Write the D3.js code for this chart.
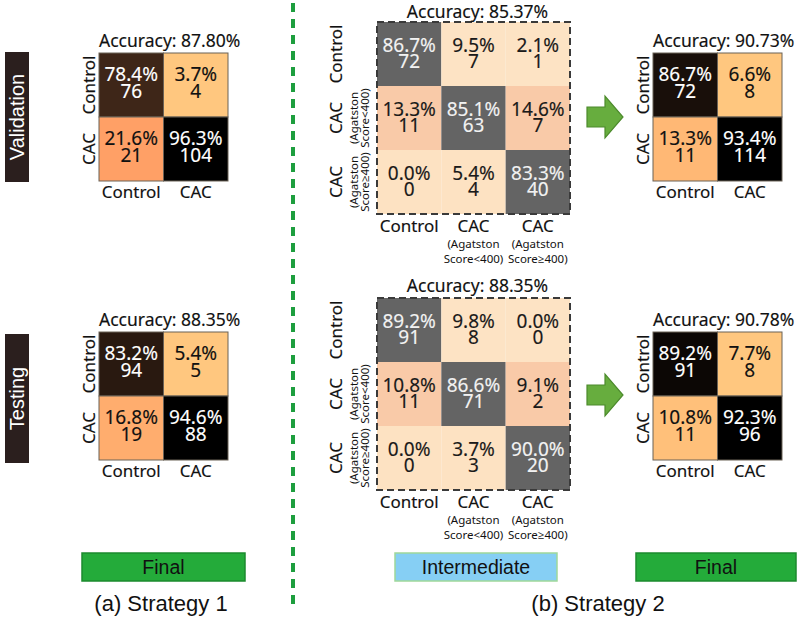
<!DOCTYPE html>
<html><head><meta charset="utf-8">
<script src="https://cdn.jsdelivr.net/npm/d3@7"></script>
<style>body{margin:0;background:#fff}</style></head>
<body>
<script>
// ---------------- DATA ----------------
const labels2 = ["Control", "CAC"];
const labels3 = ["Control", "CAC", "CAC"];
const labels3Sub = [[], ["(Agatston", "Score<400)"], ["(Agatston", "Score≥400)"]];

// Strategy 1
const s1ValPct = [[78.4, 3.7], [21.6, 96.3]];
const s1ValCnt = [[76, 4], [21, 104]];
const s1ValAcc = "Accuracy: 87.80%";
const s1TestPct = [[83.2, 5.4], [16.8, 94.6]];
const s1TestCnt = [[94, 5], [19, 88]];
const s1TestAcc = "Accuracy: 88.35%";

// Strategy 2 intermediate (3 classes)
const s2ValPct3 = [[86.7, 9.5, 2.1], [13.3, 85.1, 14.6], [0.0, 5.4, 83.3]];
const s2ValCnt3 = [[72, 7, 1], [11, 63, 7], [0, 4, 40]];
const s2ValAcc3 = "Accuracy: 85.37%";
const s2TestPct3 = [[89.2, 9.8, 0.0], [10.8, 86.6, 9.1], [0.0, 3.7, 90.0]];
const s2TestCnt3 = [[91, 8, 0], [11, 71, 2], [0, 3, 20]];
const s2TestAcc3 = "Accuracy: 88.35%";

// Strategy 2 final
const s2ValPct = [[86.7, 6.6], [13.3, 93.4]];
const s2ValCnt = [[72, 8], [11, 114]];
const s2ValAcc = "Accuracy: 90.73%";
const s2TestPct = [[89.2, 7.7], [10.8, 92.3]];
const s2TestCnt = [[91, 8], [11, 96]];
const s2TestAcc = "Accuracy: 90.78%";

const sideLabels = ["Validation", "Testing"];
const stageLabels = ["Final", "Intermediate", "Final"];
const strategyLabels = ["(a) Strategy 1", "(b) Strategy 2"];

// ---------------- STYLE / LAYOUT ----------------
const W = 800, H = 617;
const FONT = "'Noto Sans', 'Open Sans', sans-serif";
const AFONT = "'Liberation Sans', Arial, sans-serif";
const copper = d3.scaleLinear().domain([0, 0.8, 1]).range(["#000000", "#ff9f65", "#ffc77f"]);
const rowTint3 = ["#fde3c4", "#f9caa8", "#fde2c2"];
const diagGray = "#646464";

const svg = d3.select("body").append("svg").attr("width", W).attr("height", H)
  .style("font-family", FONT);

function thick(sel, color) {
  return sel.attr("stroke", color).attr("stroke-width", 0.15);
}

function cellText(g, cx, cy, pct, cnt, color, off1, off2) {
  thick(g.append("text").attr("x", cx).attr("y", cy + off1).attr("text-anchor", "middle")
    .attr("font-size", 19).attr("fill", color).text(pct.toFixed(1) + "%"), color);
  thick(g.append("text").attr("x", cx).attr("y", cy + off2).attr("text-anchor", "middle")
    .attr("font-size", 19).attr("fill", color).text(cnt), color);
}

function matrix2(left, top, pct, cnt, acc) {
  const g = svg.append("g");
  const idx = d3.range(2);
  const x = d3.scaleBand().domain(idx).range([left, left + 129]);
  const y = d3.scaleBand().domain(idx).range([top, top + 128]);
  const flat = pct.flat();
  const t = d3.scaleLinear().domain(d3.extent(flat)).range([0, 1]);
  idx.forEach(r => idx.forEach(c => {
    const v = pct[r][c], tv = t(v);
    g.append("rect").attr("x", x(c)).attr("y", y(r)).attr("width", x.bandwidth()).attr("height", y.bandwidth())
      .attr("fill", copper(1 - tv)).attr("stroke", "#6b6256").attr("stroke-width", 1);
    cellText(g, x(c) + x.bandwidth() / 2, y(r) + y.bandwidth() / 2, v, cnt[r][c],
      tv > 0.5 ? "#ffffff" : "#111111", -4, 13);
  }));
  thick(g.append("text").attr("x", left).attr("y", top - 6).attr("font-size", 17.5).attr("fill", "#111").text(acc), "#111");
  idx.forEach(i => {
    thick(g.append("text").attr("x", x(i) + x.bandwidth() / 2).attr("y", top + 128 + 17)
      .attr("text-anchor", "middle").attr("font-size", 17).attr("fill", "#111").text(labels2[i]), "#111");
    thick(g.append("text").attr("transform", `translate(${left - 4.5},${y(i) + y.bandwidth() / 2}) rotate(-90)`)
      .attr("text-anchor", "middle").attr("font-size", 17).attr("fill", "#111").text(labels2[i]), "#111");
  });
}

function matrix3(left, top, pct, cnt, acc) {
  const g = svg.append("g");
  const idx = d3.range(3);
  const x = d3.scaleBand().domain(idx).range([left, left + 193]);
  const y = d3.scaleBand().domain(idx).range([top, top + 192]);
  idx.forEach(r => idx.forEach(c => {
    const diag = r === c;
    g.append("rect").attr("x", x(c)).attr("y", y(r)).attr("width", x.bandwidth()).attr("height", y.bandwidth())
      .attr("fill", diag ? diagGray : rowTint3[r]);
    cellText(g, x(c) + x.bandwidth() / 2, y(r) + y.bandwidth() / 2, pct[r][c], cnt[r][c],
      diag ? "#f2f2f2" : "#1a1a1a", -2, 13.5);
  }));
  g.append("rect").attr("x", left).attr("y", top).attr("width", 193).attr("height", 192)
    .attr("fill", "none").attr("stroke", "#3a3a3a").attr("stroke-width", 2).attr("stroke-dasharray", "7,4");
  thick(g.append("text").attr("x", left + 193 / 2 + 4).attr("y", Math.max(top - 6, 18)).attr("text-anchor", "middle")
    .attr("font-size", 17.5).attr("fill", "#111").text(acc), "#111");
  idx.forEach(i => {
    const cx = x(i) + x.bandwidth() / 2, cy = y(i) + y.bandwidth() / 2;
    thick(g.append("text").attr("x", cx).attr("y", top + 192 + 18).attr("text-anchor", "middle")
      .attr("font-size", 17).attr("fill", "#111").text(labels3[i]), "#111");
    labels3Sub[i].forEach((s, k) => {
      g.append("text").attr("x", cx).attr("y", top + 192 + 34 + k * 15).attr("text-anchor", "middle")
        .attr("font-size", 11.5).attr("fill", "#111").text(s);
    });
    thick(g.append("text").attr("transform", `translate(${left - 35},${cy}) rotate(-90)`)
      .attr("text-anchor", "middle").attr("font-size", 17).attr("fill", "#111").text(labels3[i]), "#111");
    labels3Sub[i].forEach((s, k) => {
      g.append("text").attr("transform", `translate(${left - 19 + k * 11},${cy}) rotate(-90)`)
        .attr("text-anchor", "middle").attr("font-size", 11.5).attr("fill", "#111").text(s);
    });
  });
}

function arrow(x0, cy) {
  const p = d3.path();
  p.moveTo(x0, cy - 10); p.lineTo(x0 + 18, cy - 10); p.lineTo(x0 + 18, cy - 21);
  p.lineTo(x0 + 36, cy); p.lineTo(x0 + 18, cy + 21); p.lineTo(x0 + 18, cy + 10);
  p.lineTo(x0, cy + 10); p.closePath();
  svg.append("path").attr("d", p.toString()).attr("fill", "#67ad3e").attr("stroke", "#4c8a2c").attr("stroke-width", 1.2);
}

// side labels
[[52, 130], [334, 129]].forEach(([yy, hh], i) => {
  svg.append("rect").attr("x", 5).attr("y", yy).attr("width", 24).attr("height", hh).attr("fill", "#2b1f1e");
  svg.append("text").attr("transform", `translate(17,${yy + hh / 2}) rotate(-90)`).attr("dy", "0.36em")
    .attr("text-anchor", "middle").attr("font-family", AFONT).attr("font-size", 20).attr("fill", "#fff")
    .text(sideLabels[i]);
});

matrix2(99, 53, s1ValPct, s1ValCnt, s1ValAcc);
matrix2(99, 332, s1TestPct, s1TestCnt, s1TestAcc);
matrix3(377, 22, s2ValPct3, s2ValCnt3, s2ValAcc3);
matrix3(377, 298, s2TestPct3, s2TestCnt3, s2TestAcc3);
matrix2(653, 53, s2ValPct, s2ValCnt, s2ValAcc);
matrix2(653, 332, s2TestPct, s2TestCnt, s2TestAcc);
arrow(587, 117);
arrow(587, 395);

// divider
svg.append("line").attr("x1", 293).attr("x2", 293).attr("y1", 3).attr("y2", 611)
  .attr("stroke", "#1d9e3e").attr("stroke-width", 4).attr("stroke-dasharray", "9,7");

// stage boxes
const boxes = [[82, 163, "#24ab3a", "#1b8a2e"], [395, 162, "#86cff4", "#9fd89a"], [636, 160, "#24ab3a", "#1b8a2e"]];
boxes.forEach(([bx, bw, f, s], i) => {
  svg.append("rect").attr("x", bx).attr("y", 553).attr("width", bw).attr("height", 28)
    .attr("fill", f).attr("stroke", s).attr("stroke-width", 1.5);
  svg.append("text").attr("x", bx + bw / 2).attr("y", 574).attr("text-anchor", "middle")
    .attr("font-family", AFONT).attr("font-size", 19.5).attr("fill", "#111").text(stageLabels[i]);
});
[[161, strategyLabels[0]], [598, strategyLabels[1]]].forEach(([sx, s]) => {
  svg.append("text").attr("x", sx).attr("y", 611).attr("text-anchor", "middle")
    .attr("font-family", AFONT).attr("font-size", 22).attr("fill", "#111").text(s);
});
</script>
</body></html>
